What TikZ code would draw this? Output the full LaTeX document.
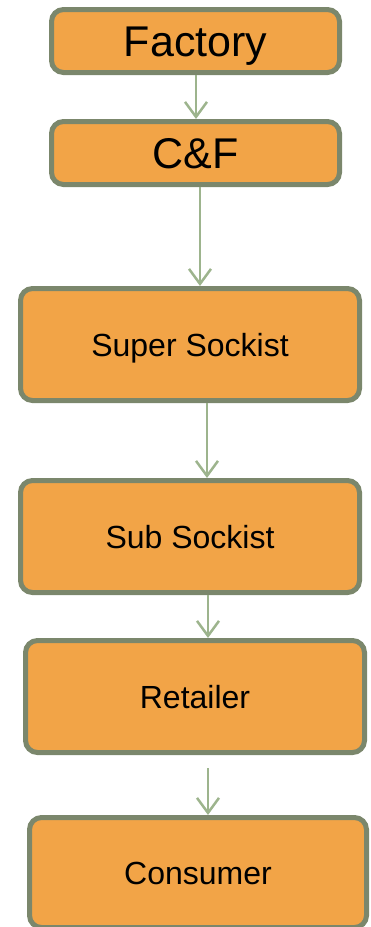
\documentclass[tikz,border=0pt]{standalone}
\usepackage{fontspec}
\setmainfont{Liberation Sans}
\usetikzlibrary{arrows.meta}
\definecolor{boxfill}{HTML}{F2A447}
\definecolor{boxline}{HTML}{7B876C}
\definecolor{arrowc}{HTML}{9DB48D}
\tikzset{
  box/.style={draw=boxline, fill=boxfill, line width=5pt, rounded corners=12pt,
    inner sep=0pt, anchor=center, text=black, text depth=0pt},
  bigtext/.style={font=\fontsize{43}{43}\selectfont, text height=30.5pt},
  smalltext/.style={font=\fontsize{32}{32}\selectfont, text height=23pt},
  conn/.style={draw=arrowc, line width=2.5pt, -{Straight Barb[length=15pt,width=22pt]}}
}
\begin{document}
\begin{tikzpicture}[x=1pt,y=-1pt]
\useasboundingbox (0,0) rectangle (370,927);
\clip (0,0) rectangle (370,927);
\node[box,bigtext,minimum width=288pt,minimum height=63pt] (fac) at (195.5,41) {Factory};
\node[box,bigtext,minimum width=288pt,minimum height=63pt] (cf) at (195.5,153) {C\&F};
\node[box,smalltext,minimum width=339pt,minimum height=112pt] (sup) at (190,344.5) {Super Sockist};
\node[box,smalltext,minimum width=339pt,minimum height=112pt] (sub) at (190,536.5) {Sub Sockist};
\node[box,smalltext,minimum width=339pt,minimum height=112pt] (ret) at (195,696.5) {Retailer};
\node[box,smalltext,minimum width=337pt,minimum height=110pt] (con) at (198,872.5) {Consumer};
\coordinate (x1) at (196,0);
\coordinate (x2) at (200,0);
\coordinate (x3) at (207,0);
\coordinate (x4) at (208,0);
\coordinate (rs) at (208,768);
\draw[conn] (fac.south -| x1) -- (cf.north -| x1);
\draw[conn] (cf.south -| x2) -- (sup.north -| x2);
\draw[conn] (sup.south -| x3) -- (sub.north -| x3);
\draw[conn] (sub.south -| x4) -- (ret.north -| x4);
\draw[conn] (rs) -- (con.north -| rs);
\end{tikzpicture}
\end{document}
